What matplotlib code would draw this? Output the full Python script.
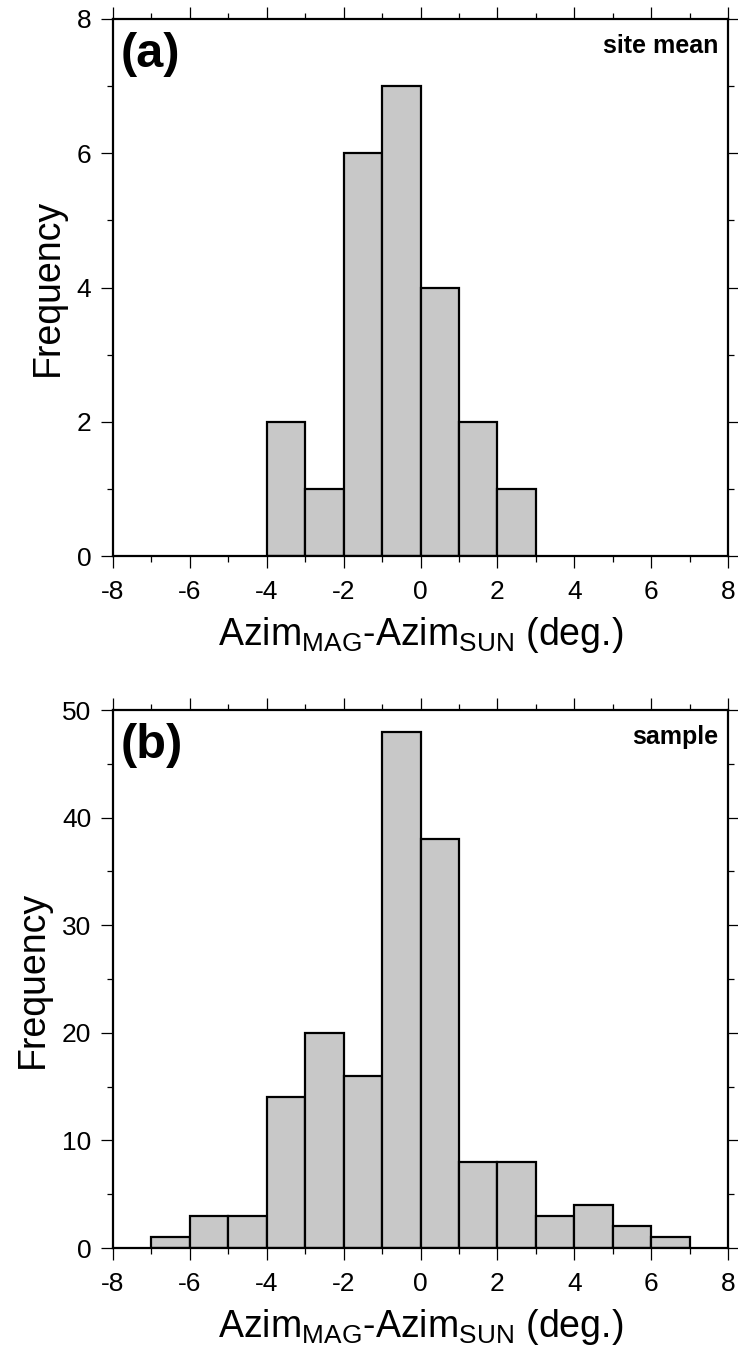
import matplotlib
matplotlib.use('Agg')
import matplotlib.pyplot as plt
import numpy as np

plt.rcParams['font.family'] = ['Liberation Sans', 'DejaVu Sans']
plt.rcParams['mathtext.fontset'] = 'custom'
plt.rcParams['mathtext.rm'] = 'Liberation Sans'
plt.rcParams['mathtext.it'] = 'Liberation Sans:italic'
plt.rcParams['mathtext.bf'] = 'Liberation Sans:bold'

# site mean histogram (bin left edges, counts)
site_edges = [-4, -3, -2, -1, 0, 1, 2]
site_counts = [2, 1, 6, 7, 4, 2, 1]

# sample histogram
sample_edges = [-7, -6, -5, -4, -3, -2, -1, 0, 1, 2, 3, 4, 5, 6]
sample_counts = [1, 3, 3, 14, 20, 16, 48, 38, 8, 8, 3, 4, 2, 1]

x_ticks = [-8, -6, -4, -2, 0, 2, 4, 6, 8]
xlabel = r'Azim$_{\mathrm{MAG}}$-Azim$_{\mathrm{SUN}}$ (deg.)'

fig = plt.figure(figsize=(7.38, 13.46), dpi=100)
W, H = 738, 1346


def make_axes(left, top, right, bottom):
    return fig.add_axes([left / W, 1 - bottom / H, (right - left) / W, (bottom - top) / H])


def style(ax, ymax, ymajor, yminor):
    ax.set_xlim(-8, 8)
    ax.set_ylim(0, ymax)
    ax.set_xticks(x_ticks)
    ax.set_xticks(np.arange(-7, 8, 2), minor=True)
    ax.set_yticks(np.arange(0, ymax + 0.1, ymajor))
    ax.set_yticks(np.arange(yminor, ymax, ymajor), minor=True)
    ax.set_xticklabels([str(t) for t in x_ticks])
    for s in ax.spines.values():
        s.set_linewidth(1.6)
    ax.tick_params(which='both', direction='out', top=True, right=True, width=0.9,
                   labelsize=19, pad=7)
    ax.tick_params(axis='x', pad=9)
    ax.tick_params(which='major', length=8.5)
    ax.tick_params(which='minor', length=4)
    ax.set_ylabel('Frequency', fontsize=27, labelpad=8)
    ax.set_xlabel(xlabel, fontsize=27, labelpad=8)


def draw(ax, edges, counts, label, tag):
    ax.bar(edges, counts, width=1, align='edge', color='#c8c8c8',
           edgecolor='black', linewidth=1.6, zorder=2)
    ax.text(0.012, 0.975, label, transform=ax.transAxes, fontsize=35,
            fontweight='bold', ha='left', va='top')
    ax.text(0.985, 0.972, tag, transform=ax.transAxes, fontsize=18,
            fontweight='bold', ha='right', va='top')


ax1 = make_axes(113, 19, 728, 556)
draw(ax1, site_edges, site_counts, '(a)', 'site mean')
style(ax1, 8, 2, 1)

ax2 = make_axes(113, 710, 728, 1248)
draw(ax2, sample_edges, sample_counts, '(b)', 'sample')
style(ax2, 50, 10, 5)

fig.savefig('out.png', dpi=100)
